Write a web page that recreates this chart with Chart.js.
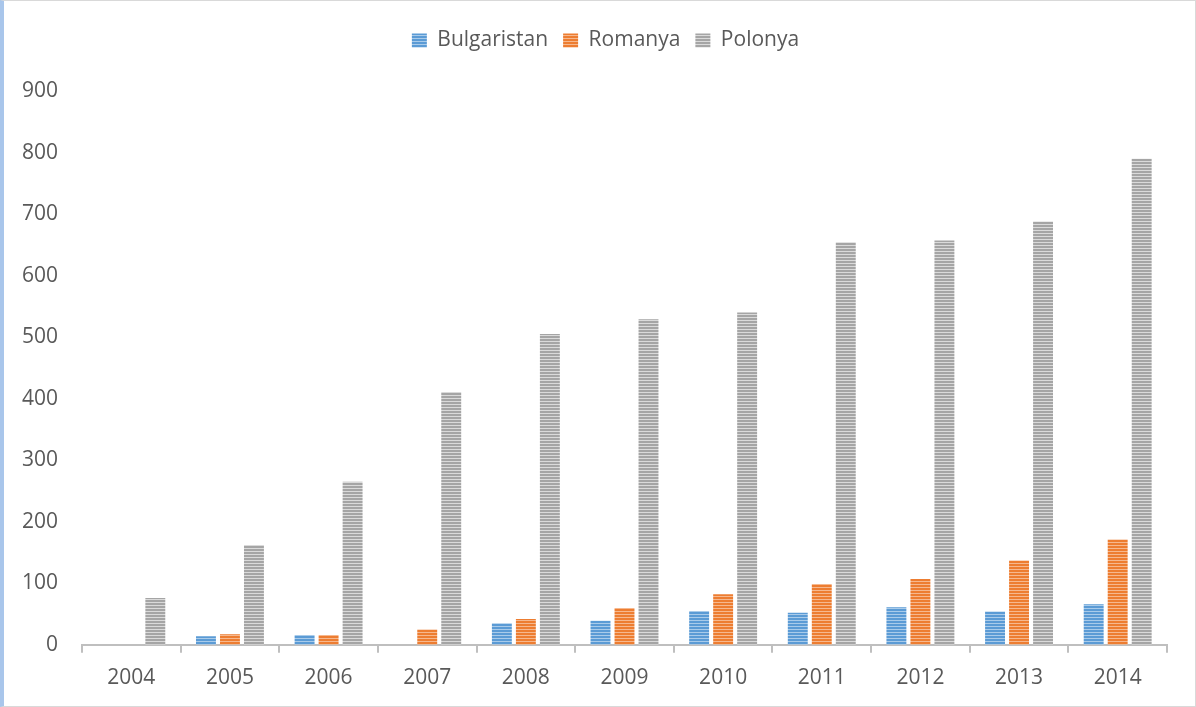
<!DOCTYPE html>
<html>
<head>
<meta charset="utf-8">
<script src="https://cdn.jsdelivr.net/npm/chart.js@4"></script>
<style>
html,body{margin:0;padding:0;background:#fff;}
#wrap{position:relative;width:1196px;height:707px;}
canvas{display:block;}
.frame{position:absolute;left:0;top:0;width:1196px;height:707px;box-sizing:border-box;border:1px solid #D9D9D9;border-left:4px solid #A9C6EB;pointer-events:none;}
</style>
</head>
<body>
<div id="wrap"><canvas id="c" width="1196" height="707"></canvas><div class="frame"></div></div>
<script>
const years = ['2004','2005','2006','2007','2008','2009','2010','2011','2012','2013','2014'];
const bulgaristan = [0, 14, 16, 0, 35, 39, 55, 52, 61, 54, 66];
const romanya = [0, 17, 16, 25, 42, 60, 82, 99, 107, 137, 171];
const polonya = [76, 162, 265, 411, 505, 529, 540, 654, 657, 688, 790];
const seriesNames = ['Bulgaristan', 'Romanya', 'Polonya'];

function stripe(base, light) {
  const c = document.createElement('canvas');
  c.width = 4; c.height = 3;
  const g = c.getContext('2d');
  g.fillStyle = base; g.fillRect(0, 0, 4, 3);
  g.fillStyle = light; g.fillRect(0, 2, 4, 1);
  return g.createPattern(c, 'repeat');
}
const ctx = document.getElementById('c').getContext('2d');
const pBlue = stripe('#5B9BD5', '#A9CBEA');
const pOrange = stripe('#ED7D31', '#F6B88E');
const pGray = stripe('#A5A5A5', '#DADADA');

Chart.defaults.font.family = "'Open Sans', sans-serif";
Chart.defaults.color = '#595959';

const legendGap = {
  id: 'legendGap',
  beforeInit(chart) {
    const orig = chart.legend.fit;
    chart.legend.fit = function () { orig.bind(chart.legend)(); this.height += 29; };
  },
  afterLayout(chart) {
    chart.legend.left += 40;
    chart.legend.top -= 1;
  }
};

new Chart(ctx, {
  type: 'bar',
  data: {
    labels: years,
    datasets: [
      {label: seriesNames[0], data: bulgaristan, backgroundColor: pBlue},
      {label: seriesNames[1], data: romanya, backgroundColor: pOrange},
      {label: seriesNames[2], data: polonya, backgroundColor: pGray}
    ]
  },
  options: {
    responsive: false,
    animation: false,
    devicePixelRatio: 1,
    layout: {padding: {left: 4, right: 29, top: 16, bottom: 3}},
    datasets: {bar: {categoryPercentage: 0.73, barPercentage: 0.83}},
    plugins: {
      legend: {
        position: 'top',
        labels: {boxWidth: 15, boxHeight: 14, padding: 15, font: {size: 21}, color: '#595959'}
      },
      tooltip: {enabled: false}
    },
    scales: {
      x: {
        grid: {display: true, offset: true, drawOnChartArea: false, drawTicks: true, tickLength: 8, color: '#BFBFBF', lineWidth: 2},
        border: {display: true, color: '#BFBFBF', width: 2},
        ticks: {font: {size: 21}, color: '#595959', padding: 13}
      },
      y: {
        min: 0, max: 900,
        grid: {display: false, drawTicks: false},
        border: {display: false},
        ticks: {stepSize: 100, font: {size: 21}, color: '#595959', padding: 24},
        afterFit: (s) => { s.width = 78; }
      }
    }
  },
  plugins: [legendGap]
});
</script>
</body>
</html>
